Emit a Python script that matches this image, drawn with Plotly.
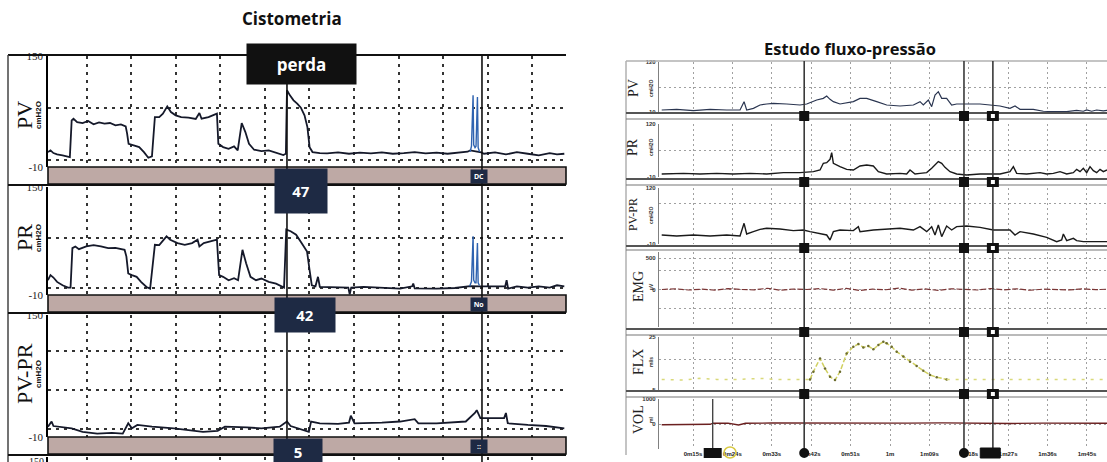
import plotly.graph_objects as go

W, H = 1107, 462
def X(px): return px / W
def Y(py): return 1 - py / H
def dom(top, bottom): return [Y(bottom), Y(top)]

# ================= DATA: Cistometria (left) =================
cys_grid = list(range(1, 12))
cys_events = [5.494, 9.876]          # perda marker, second marker
cys_range = [0.124, 11.764]

pv_t = [0.123, 0.18, 0.246, 0.328, 0.451, 0.574, 0.615, 0.656, 0.697, 0.779, 0.902, 1.025, 1.148, 1.271,
        1.394, 1.517, 1.64, 1.763, 1.87, 1.902, 1.935, 2.05, 2.173, 2.28, 2.378, 2.46, 2.526, 2.624, 2.706,
        2.804, 2.886, 2.993, 3.116, 3.28, 3.444, 3.526, 3.575, 3.731, 3.92, 3.952, 4.059, 4.182, 4.305,
        4.387, 4.477, 4.559, 4.641, 4.756, 4.92, 5.084, 5.248, 5.412, 5.469, 5.494, 5.56, 5.642, 5.724,
        5.806, 5.888, 5.953, 6.002, 6.068, 6.232, 6.396, 6.642, 6.888, 7.134, 7.38, 7.626, 7.872, 8.118,
        8.364, 8.61, 8.856, 9.102, 9.348, 9.553, 9.61, 9.70, 9.80, 9.86, 9.922, 10.168, 10.414, 10.66,
        10.906, 11.152, 11.398, 11.562, 11.726]
pv_v = [11.5, 13.9, 10.1, 8.1, 6.7, 4.3, 4.3, 57.2, 59.6, 54.8, 53.4, 56.3, 51.5, 54.3,
        52.4, 53.4, 50.0, 51.5, 48.6, 38.0, 23.5, 21.1, 18.7, 11.5, 3.3, 5.3, 62.0, 62.0, 66.9,
        77.4, 69.3, 64.5, 62.0, 61.1, 59.2, 67.8, 59.6, 62.0, 66.9, 23.5, 18.7, 16.3, 19.7,
        13.9, 53.4, 40.4, 23.5, 14.9, 13.0, 13.9, 10.1, 7.2, 9.1, 100.6, 93.3, 86.1, 81.3,
        75.5, 64.5, 47.6, 18.7, 11.5, 10.1, 9.6, 11.0, 9.1, 10.6, 9.6, 11.0, 9.1, 10.1,
        11.5, 9.6, 10.6, 9.1, 10.1, 12.0, 14.0, 13.0, 12.0, 11.0, 9.1, 11.0, 8.1, 11.5,
        9.1, 6.7, 10.1, 8.1, 9.1]
pv_spike_t = [9.61, 9.64, 9.676, 9.69, 9.72, 9.742, 9.774, 9.79, 9.82]
pv_spike_v = [12.0, 20.0, 93.3, 22.0, 18.0, 20.0, 90.9, 18.0, 12.0]

pr_t = [0.123, 0.18, 0.246, 0.328, 0.451, 0.574, 0.631, 0.672, 0.738, 0.82, 0.984, 1.148, 1.312, 1.476,
        1.64, 1.845, 1.886, 1.927, 2.009, 2.116, 2.214, 2.337, 2.419, 2.526, 2.624, 2.788, 2.87, 3.034,
        3.198, 3.362, 3.485, 3.526, 3.624, 3.772, 3.92, 3.969, 4.059, 4.182, 4.305, 4.395, 4.494, 4.576,
        4.674, 4.797, 4.92, 5.084, 5.248, 5.428, 5.478, 5.576, 5.699, 5.822, 5.945, 6.002, 6.052, 6.134,
        6.191, 6.232, 6.56, 6.872, 6.904, 6.937, 7.216, 7.626, 8.036, 8.307, 8.331, 8.364, 8.856, 9.266,
        9.553, 9.61, 9.84, 9.922, 10.168, 10.398, 10.43, 10.463, 10.66, 10.906, 11.152, 11.398, 11.562,
        11.726]
pr_v = [11.9, 19.4, 15.9, 9.4, 4.4, 0.9, 0.9, 59.4, 61.9, 57.9, 61.9, 63.9, 61.9, 59.4,
        59.9, 56.9, 46.9, 21.9, 19.4, 16.9, 9.4, 1.9, -0.6, 64.4, 63.9, 76.9, 71.9, 66.9,
        64.4, 66.9, 71.9, 61.9, 66.9, 68.9, 71.9, 19.4, 16.9, 11.9, 14.9, 11.9, 56.9, 36.9,
        16.9, 11.9, 14.4, 9.4, 6.9, 0.9, 86.9, 84.4, 79.4, 66.9, 54.4, 26.9, 4.4, 2.9,
        16.9, 1.9, 1.9, 0.9, -9.0, 0.9, 1.9, 0.4, -0.6, 2.9, 6.9, -0.1, -0.6, 0.4,
        1.9, 3.0, 2.9, 2.9, 1.9, 2.9, 11.9, -0.6, 2.9, 0.9, 2.9, 0.9, 4.4,
        2.9]
pr_spike_t = [9.60, 9.64, 9.676, 9.69, 9.72, 9.742, 9.774, 9.79, 9.82]
pr_spike_v = [3.0, 10.0, 76.9, 12.0, 8.0, 8.0, 66.9, 8.0, 4.0]

pvpr_t = [0.123, 0.205, 0.246, 0.451, 0.656, 0.902, 1.23, 1.558, 1.804, 1.927, 2.009, 2.132, 2.46, 2.952,
          3.28, 3.608, 3.936, 4.10, 4.592, 4.92, 5.33, 5.494, 5.576, 5.74, 5.986, 6.035, 6.232, 6.642,
          6.888, 6.929, 7.011, 7.626, 8.036, 8.364, 8.446, 8.856, 9.512, 9.717, 9.758, 9.84, 10.373,
          10.414, 10.455, 10.906, 11.316, 11.726]
pvpr_v = [3.5, 10.3, 4.4, 2.6, 1.3, -3.2, -5.5, -4.6, -5.5, 8.0, 1.3, 5.8, 3.5, 1.3,
          -1.0, -3.2, -1.9, 3.5, 2.6, 1.3, 3.5, 10.3, 4.4, 1.3, -3.2, 10.3, 8.0, 7.1,
          8.9, 18.0, 8.0, 8.9, 10.3, 13.4, 8.0, 8.0, 10.3, 21.5, 25.2, 14.8, 14.8,
          21.5, 8.0, 5.8, 4.4, 1.3]

cys_labels = ["PV", "PR", "PV-PR"]
bar_values = ["47", "42", "5"]
bar_flags = ["DC", "No", "::"]

# ================= DATA: Estudo fluxo-pressão (right) =================
fp_range = [7.23, 109.57]
fp_ticks = [15, 24, 33, 42, 51, 60, 69, 78, 87, 96, 105]
fp_ticktext = ["0m15s", "0m24s", "0m33s", "0m42s", "0m51s", "1m", "1m09s", "1m18s", "1m27s", "1m36s", "1m45s"]
fp_events = [40.4, 76.9, 83.5]
vol_event = 19.5

rpv_t = [7.85, 11.27, 15.08, 18.89, 22.7, 25.74, 26.66, 27.26, 28.79, 30.31, 31.83, 33.35, 36.4, 39.44,
         40.97, 43.25, 44.77, 45.54, 46.3, 47.06, 48.58, 51.63, 53.15, 54.67, 56.96, 59.24, 62.29, 65.34,
         66.86, 67.61, 68.76, 69.52, 70.28, 71.04, 71.81, 72.94, 74.09, 75.23, 77.51, 80.56, 85.13, 87.41,
         88.56, 89.7, 92.74, 95.03, 97.31, 100.36, 102.64, 104.16, 104.93, 106.07, 107.21, 108.74, 109.57]
rpv_v = [-4.8, -3.1, -6.5, -3.1, -4.8, -4.8, 16.9, -4.8, -0.5, 8.2, 10.8, 12.5, 10.8, 8.2,
         10.8, 21.2, 25.5, 31.6, 22.9, 16.9, 10.8, 16.9, 25.5, 25.5, 16.9, 8.2, 5.6, 8.2,
         16.9, 8.2, 21.2, 3.9, 34.2, 42.8, 25.5, 25.5, 8.2, 10.8, 10.8, 10.8, 5.6, -0.5,
         5.6, -3.1, -3.1, -8.0, -9.0, -9.0, -6.0, -8.0, -4.8, -8.0, -4.8, -7.0, -6.0]

rpr_t = [7.85, 12.8, 16.6, 20.41, 24.22, 28.02, 31.83, 35.64, 39.44, 42.5, 44.02, 44.77, 45.54, 46.3,
         46.68, 47.06, 48.58, 50.1, 51.63, 53.15, 54.67, 56.19, 57.34, 59.24, 62.29, 63.81, 64.57, 65.72,
         66.86, 68.38, 69.52, 70.28, 71.04, 71.81, 72.56, 73.71, 75.23, 77.51, 80.56, 85.13, 87.41, 88.18,
         88.94, 91.22, 94.26, 95.79, 97.31, 98.84, 100.36, 101.88, 102.64, 103.41, 104.16, 104.93, 105.69,
         106.45, 107.21, 107.98, 108.74, 109.57]
rpr_v = [-2.6, -1.0, -2.6, -1.0, -2.6, -1.0, -2.6, 0.7, 0.7, 3.1, 7.2, 23.6, 25.2, 33.4,
         49.7, 23.6, 15.4, 8.8, 7.2, 17.0, 19.5, 17.0, 3.1, -2.6, -1.0, -2.6, 7.2, -2.6,
         -1.0, 0.7, 11.3, 19.5, 27.7, 23.6, 13.7, 3.1, -2.6, -5.0, -2.6, -2.6, 3.1, 15.4,
         -1.0, -2.6, 0.7, -2.6, -1.0, 3.1, -2.6, 0.7, 8.8, 3.1, 11.3, 0.7, 15.4,
         5.6, 0.7, 8.8, 3.1, 7.2]

rpvpr_t = [7.85, 11.27, 15.08, 18.89, 22.7, 25.74, 26.66, 27.26, 28.79, 30.31, 31.83, 34.88, 37.92, 40.21,
           41.73, 44.02, 45.54, 46.3, 47.06, 48.58, 51.63, 52.77, 53.15, 56.19, 59.24, 62.29, 65.34, 66.86,
           68.38, 69.52, 70.28, 71.04, 71.81, 72.94, 74.09, 75.23, 77.51, 80.56, 83.61, 87.41, 88.56, 89.7,
           92.74, 95.79, 98.08, 99.21, 99.6, 100.36, 101.88, 102.64, 104.16, 106.45, 109.57]
rpvpr_v = [10.9, 8.6, 10.9, 8.6, 10.9, 8.6, 38.0, 13.2, 18.7, 24.1, 26.4, 24.8, 21.0, 22.5,
           18.7, 14.8, 10.9, -0.7, 18.7, 22.5, 21.0, 30.3, 18.7, 22.5, 24.1, 26.4, 22.5, 30.3,
           18.7, 30.3, 10.9, 34.1, 7.0, 31.8, 22.5, 30.3, 31.8, 28.7, 22.5, 22.5, 10.9, 18.7,
           13.2, 5.5, -4.6, -0.7, 13.2, -2.2, 3.2, -2.2, -4.6, -4.6, -4.6]

emg_t = [7.9, 11, 14, 17, 20, 23, 26, 29, 32, 35, 38, 41, 44, 47, 50, 53, 56, 59, 62, 65, 68, 71, 74,
         77, 80, 83, 86, 89, 92, 95, 98, 101, 104, 107, 109.6]
emg_v = [0, 12, -8, 5, -10, 15, 0, -6, 20, -12, 8, 0, 14, -9, 18, -15, 6, -4, 22, -10, 9, -14, 12,
         0, -8, 16, -5, 10, -12, 6, 0, -7, 11, -3, 5]

flx_t = [7.85, 12.8, 16.6, 20.41, 25.74, 30.31, 33.35, 36.4, 39.44, 41.73, 42.5, 44.02, 45.15, 46.3,
         47.44, 48.58, 50.1, 51.63, 52.77, 53.91, 55.05, 56.19, 57.34, 58.48, 59.24, 60.39, 61.53, 63.05,
         64.57, 66.1, 67.61, 69.14, 70.67, 72.94, 75.99, 81.32, 87.41, 92.74, 100.36, 109.57]
flx_v = [1.0, 0.6, 1.6, 1.0, 1.0, 1.6, 1.0, 1.0, 1.0, 1.0, 5.4, 12.9, 7.2, 2.5,
         0.6, 5.4, 15.7, 19.5, 21.0, 19.1, 19.9, 18.0, 20.5, 22.3, 21.4, 19.5, 16.7, 13.9,
         11.0, 8.6, 5.9, 3.5, 2.2, 1.0, 1.0, 1.0, 1.0, 1.0, 1.0, 1.0]

vol_t = [7.85, 12, 16, 18.9, 19.6, 23, 25.4, 27, 33, 40, 48, 56, 64, 72, 80, 88, 95, 100, 105, 109.6]
vol_v = [-30, -25, -20, -10, 30, 35, -40, 30, 40, 35, 45, 40, 35, 45, 30, 20, 35, 30, 40, 30]

fp_labels = ["PV", "PR", "PV-PR", "EMG", "FLX", "VOL"]
fp_units = ["cmH2O", "cmH2O", "cmH2O", "µV", "ml/s", "ml"]

# ================= FIGURE =================
fig = go.Figure()
DARK = "#15192a"
BLUE = "#2f63b0"

# left traces
fig.add_trace(go.Scatter(x=pv_t, y=pv_v, xaxis="x", yaxis="y", mode="lines",
                         line=dict(color=DARK, width=1.8)))
fig.add_trace(go.Scatter(x=pv_spike_t, y=pv_spike_v, xaxis="x", yaxis="y", mode="lines",
                         line=dict(color=BLUE, width=1.4)))
fig.add_trace(go.Scatter(x=pr_t, y=pr_v, xaxis="x2", yaxis="y2", mode="lines",
                         line=dict(color=DARK, width=1.8)))
fig.add_trace(go.Scatter(x=pr_spike_t, y=pr_spike_v, xaxis="x2", yaxis="y2", mode="lines",
                         line=dict(color=BLUE, width=1.4)))
fig.add_trace(go.Scatter(x=pvpr_t, y=pvpr_v, xaxis="x3", yaxis="y3", mode="lines",
                         line=dict(color=DARK, width=1.8)))
fig.add_trace(go.Scatter(x=[], y=[], xaxis="x4", yaxis="y4"))

# right traces
fig.add_trace(go.Scatter(x=rpv_t, y=rpv_v, xaxis="x5", yaxis="y5", mode="lines",
                         line=dict(color="#2a3550", width=1.2)))
fig.add_trace(go.Scatter(x=rpr_t, y=rpr_v, xaxis="x6", yaxis="y6", mode="lines",
                         line=dict(color="#1a1a1a", width=1.4)))
fig.add_trace(go.Scatter(x=rpvpr_t, y=rpvpr_v, xaxis="x7", yaxis="y7", mode="lines",
                         line=dict(color="#1a1a1a", width=1.4)))
fig.add_trace(go.Scatter(x=emg_t, y=emg_v, xaxis="x8", yaxis="y8", mode="lines",
                         line=dict(color="#7a3535", width=1.2, dash="6px,2px")))
fig.add_trace(go.Scatter(x=flx_t[:10], y=flx_v[:10], xaxis="x9", yaxis="y9", mode="lines",
                         line=dict(color="#d9d97a", width=1.5, dash="3px,6px")))
fig.add_trace(go.Scatter(x=flx_t[9:34], y=flx_v[9:34], xaxis="x9", yaxis="y9", mode="lines+markers",
                         line=dict(color="#d0d060", width=1.5, dash="5px,2px"),
                         marker=dict(color="#6b6b30", size=2.5)))
fig.add_trace(go.Scatter(x=flx_t[33:], y=flx_v[33:], xaxis="x9", yaxis="y9", mode="lines",
                         line=dict(color="#d9d97a", width=1.5, dash="3px,6px")))
fig.add_trace(go.Scatter(x=vol_t, y=vol_v, xaxis="x10", yaxis="y10", mode="lines",
                         line=dict(color="#6b2020", width=1.3)))

layout = dict(width=W, height=H, margin=dict(l=0, r=0, t=0, b=0, pad=0), autosize=False,
              paper_bgcolor="white", plot_bgcolor="white", showlegend=False)

# ---- left axes ----
lgrid = dict(showgrid=True, gridcolor="#333333", griddash="3px,5px", gridwidth=1.6, zeroline=False,
             automargin=False)
ltick = dict(family="Liberation Serif", size=11, color="#222")
left_doms = [(56, 167), (187, 295), (315, 437), (457, 462)]
left_hgrid = [[-10, 0, 75, 150], [-10, 0, 75, 150], [-10, 0, 52, 103, 150], [150]]
for i, (top, bot) in enumerate(left_doms):
    n = "" if i == 0 else str(i + 1)
    layout["xaxis" + n] = dict(domain=[X(48), X(566)], range=cys_range, anchor="y" + n,
                               tickvals=cys_grid, showticklabels=False, showline=False, ticks="", **lgrid)
    tv = left_hgrid[i]
    tt = ["-10" if v == -10 else ("150" if v == 150 else "") for v in tv]
    layout["yaxis" + n] = dict(domain=dom(top, bot), range=[-10, 150], anchor="x" + n,
                               tickvals=tv, ticktext=tt if i < 3 else [""], tickfont=ltick, ticks="",
                               ticklabelstandoff=1,
                               showline=True, linecolor="black", linewidth=1.5, **lgrid)

# ---- right axes ----
rgrid = dict(showgrid=True, gridcolor="#a0a0a0", griddash="2px,3px", gridwidth=1, zeroline=False,
             automargin=False)
rtick = dict(family="Liberation Sans", size=6, color="#333")
right_doms = [(62, 112), (124, 177), (188, 244), (252, 327), (337, 390), (399, 449)]
right_ranges = [[-10, 120], [-10, 120], [-10, 120], [-600, 600], [-5, 25], [-1000, 1000]]
right_tv = [[-10, 55, 120], [-10, 55, 120], [-10, 85, 120], [-300, 0, 300, 500], [-5, 12.5, 25], [-1000, 0, 1000]]
right_tt = [["-10", "", "120"], ["-10", "", "120"], ["-10", "", "120"], ["", "0", "", "500"],
            ["-5", "", "25"], ["", "0", "1000"]]
for j, (top, bot) in enumerate(right_doms):
    n = str(j + 5)
    last = (j == 5)
    layout["xaxis" + n] = dict(domain=[X(659), 1], range=fp_range, anchor="y" + n,
                               tickvals=fp_ticks, ticktext=["<b>%s</b>" % s for s in fp_ticktext],
                               showticklabels=last, ticks="", showline=False, ticklabelstandoff=0,
                               tickfont=dict(family="Liberation Sans", size=6, color="#222"), **rgrid)
    layout["yaxis" + n] = dict(domain=dom(top, bot), range=right_ranges[j], anchor="x" + n,
                               tickvals=right_tv[j], ticktext=["<b>%s</b>" % s for s in right_tt[j]],
                               tickfont=rtick, ticks="", showline=True, linecolor="#808080",
                               ticklabelstandoff=1, linewidth=1.2, **rgrid)

# ---- shapes ----
shapes = []
def pline(x0, y0, x1, y1, color="black", width=2):
    shapes.append(dict(type="line", xref="paper", yref="paper", x0=X(x0), y0=Y(y0), x1=X(x1), y1=Y(y1),
                       line=dict(color=color, width=width)))

# left frame
pline(8, 55, 566, 55, "#111", 2)
pline(8, 55, 8, 462, "#444", 1.5)
for yy in (185, 313, 455):
    pline(8, yy, 566, yy, "#111", 2)
for (t0, t1) in [(167, 184), (295, 312), (437, 454)]:
    shapes.append(dict(type="rect", xref="paper", yref="paper", x0=X(48), x1=X(566), y0=Y(t1), y1=Y(t0),
                       fillcolor="#bea9a5", line=dict(color="#111", width=1.6)))
# left event lines
shapes.append(dict(type="line", xref="x", yref="paper", x0=cys_events[0], x1=cys_events[0],
                   y0=Y(462), y1=Y(60), line=dict(color="#111", width=1.6)))
shapes.append(dict(type="line", xref="x", yref="paper", x0=cys_events[1], x1=cys_events[1],
                   y0=Y(462), y1=Y(55), line=dict(color="#111", width=1.6)))

# right frame
pline(626, 61, 1107, 61, "#b0b0b0", 1.5)
pline(626, 61, 626, 455, "#b0b0b0", 1.5)
for (a, b) in [(113, 119), (179, 185), (246, 250), (329, 335), (391, 397)]:
    pline(626, a, 1107, a, "#555", 1.8)
    pline(626, b, 1107, b, "#777", 1.2)
# right event lines
for ev in fp_events:
    shapes.append(dict(type="line", xref="x5", yref="paper", x0=ev, x1=ev, y0=Y(455), y1=Y(61),
                       line=dict(color="#3a3a3a", width=1.6)))
shapes.append(dict(type="line", xref="x10", yref="paper", x0=vol_event, x1=vol_event, y0=Y(452), y1=Y(399),
                   line=dict(color="#3a3a3a", width=1.3)))
# markers on separators
for yy in (116, 182, 248, 332, 394):
    for ev in fp_events[:2]:
        shapes.append(dict(type="rect", xref="x5", yref="paper", xsizemode="pixel", xanchor=ev,
                           x0=-5, x1=5, y0=Y(yy + 5), y1=Y(yy - 5), fillcolor="#111", line=dict(width=0)))
    shapes.append(dict(type="rect", xref="x5", yref="paper", xsizemode="pixel", xanchor=fp_events[2],
                       x0=-6, x1=6, y0=Y(yy + 5), y1=Y(yy - 5), fillcolor="#111", line=dict(width=0)))
    shapes.append(dict(type="rect", xref="x5", yref="paper", xsizemode="pixel", xanchor=fp_events[2],
                       x0=-2, x1=2, y0=Y(yy + 2), y1=Y(yy - 2), fillcolor="white", line=dict(width=0)))
# bottom markers
for ev in fp_events[:2]:
    shapes.append(dict(type="circle", xref="x5", yref="paper", xsizemode="pixel", xanchor=ev,
                       x0=-5, x1=5, y0=Y(458), y1=Y(448), fillcolor="#111", line=dict(width=0)))
shapes.append(dict(type="rect", xref="x5", yref="paper", xsizemode="pixel", xanchor=fp_events[2] - 0.6,
                   x0=-10, x1=10, y0=Y(458), y1=Y(448), fillcolor="#111", line=dict(color="#111", width=1)))
shapes.append(dict(type="rect", xref="x5", yref="paper", xsizemode="pixel", xanchor=vol_event,
                   x0=-9, x1=9, y0=Y(458), y1=Y(448), fillcolor="#111", line=dict(width=0)))
shapes.append(dict(type="circle", xref="x5", yref="paper", xsizemode="pixel", xanchor=23.45,
                   x0=-6, x1=6, y0=Y(458), y1=Y(447), fillcolor="rgba(0,0,0,0)",
                   line=dict(color="#d8c840", width=1.5)))
layout["shapes"] = shapes

# ---- annotations ----
ann = []
def text(px, py, s, size, family="Liberation Serif", color="#111", angle=0, xa="center", ya="middle"):
    ann.append(dict(x=X(px), y=Y(py), xref="paper", yref="paper", text=s, showarrow=False,
                    xanchor=xa, yanchor=ya, textangle=angle,
                    font=dict(family=family, size=size, color=color)))

text(292, 18, "<b>Cistometria</b>", 17, "Open Sans")
text(850, 48, "<b>Estudo fluxo-pressão</b>", 16.5, "Open Sans")

# left labels
for lab, cy in zip(cys_labels, (115, 238, 374)):
    text(24, cy, lab, 22, angle=-90)
    text(38, cy, "<b>cmH2O</b>", 8, "Liberation Sans", angle=-90)
text(46, 454, "150", 10, xa="right", ya="top")

# boxes
def box(cx, cy, w, h, s, size, bg):
    ann.append(dict(x=X(cx), y=Y(cy), xref="paper", yref="paper", text=s, showarrow=False,
                    xanchor="center", yanchor="middle",
                    width=w, height=h, bgcolor=bg, borderpad=0,
                    font=dict(family="Open Sans", size=size, color="white")))

box(301.5, 64, 109, 40, "<b>perda</b>", 17, "#111111")
for s, cy, cx, w, h in zip(bar_values, (190.5, 314.5, 452), (301, 305, 298), (52, 60, 48), (44, 34, 26)):
    box(cx, cy, w, h, "<b>%s</b>" % s, 15, "#1e2a44")
for s, cy in zip(bar_flags, (176, 304, 446)):
    box(479, cy, 16, 13, "<b>%s</b>" % s, 7, "#1e2a44")

# right labels
rcent = [(633, 88), (633, 147), (633, 215), (638, 287), (638, 362), (638, 420)]
for lab, unit, (cx, cy) in zip(fp_labels, fp_units, rcent):
    text(cx, cy, lab, 12 if lab == "PV-PR" else 14, angle=-90, color="#222")
    text(651, cy, "<b>%s</b>" % unit, 5, "Liberation Sans", angle=-90, color="#333")

layout["annotations"] = ann
fig.update_layout(**layout)
fig.write_html("out.html", config={"displayModeBar": False},
               post_script="document.body.style.margin='0';")
